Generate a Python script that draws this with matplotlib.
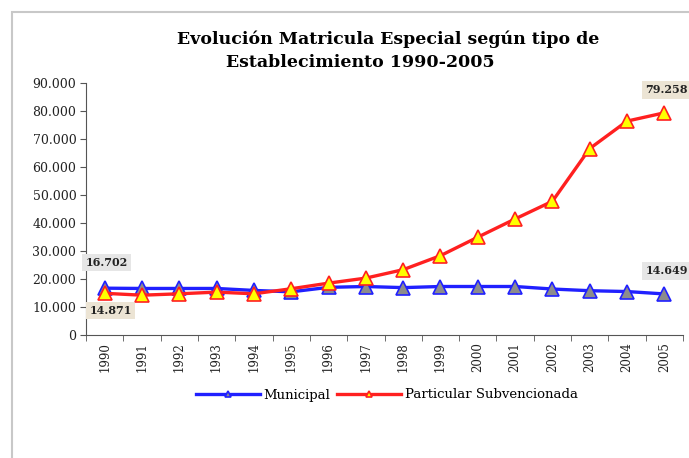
import matplotlib
matplotlib.use("Agg")
import matplotlib.pyplot as plt
from matplotlib.patches import Rectangle

# datos
anios = [str(a) for a in range(1990, 2006)]
municipal = [16702, 16600, 16600, 16600, 15900, 15400, 17000, 17300, 16900,
             17300, 17300, 17300, 16400, 15800, 15500, 14649]
particular = [14871, 14200, 14700, 15300, 14700, 16500, 18500, 20300, 23300,
              28300, 34900, 41400, 47700, 66500, 76300, 79258]
yticks = list(range(0, 90001, 10000))
ytick_labels = ["0"] + [f"{v // 1000}.000" for v in yticks[1:]]

plt.rcParams['font.family'] = ['DejaVu Serif']

fig = plt.figure(figsize=(6.89, 4.58), dpi=100)
ax = fig.add_axes([86 / 689, 1 - 335 / 458, (683 - 86) / 689, (335 - 82.7) / 458])

# marco gris del area del grafico
fig.patches.append(Rectangle((12 / 689, -0.05), 1.2, 1.05 - 12 / 458,
                             transform=fig.transFigure, fill=False,
                             edgecolor='#c8c8c8', lw=1.5))

x = list(range(len(anios)))
ax.plot(x, municipal, color='#2020ff', lw=2.4, marker='^', ms=10,
        mfc='#8c8c8c', mec='#2020ff', mew=1.2, label='Municipal', zorder=3)
ax.plot(x, particular, color='#ff2020', lw=2.4, marker='^', ms=10,
        mfc='#ffff00', mec='#ff2020', mew=1.2, label='Particular Subvencionada', zorder=4)

ax.set_xlim(-0.5, len(anios) - 0.5)
ax.set_ylim(0, 90000)
ax.set_yticks(yticks)
ax.set_yticklabels(ytick_labels, fontsize=9, color='#222222')
ax.set_xticks(x)
ax.set_xticklabels(anios, rotation=90, fontsize=8.5, color='#222222')
ax.set_xticks([i - 0.5 for i in range(len(anios) + 1)], minor=True)
ax.tick_params(axis='x', which='major', length=0, pad=5)
ax.tick_params(axis='x', which='minor', length=4, color='#555555')
ax.tick_params(axis='y', length=4, color='#555555', pad=3)
for s in ['top', 'right']:
    ax.spines[s].set_visible(False)
for s in ['left', 'bottom']:
    ax.spines[s].set_color('#555555')

# etiquetas de datos
lbl = dict(fontsize=8, fontweight='bold', color='#222222')
ax.annotate("16.702", (0, municipal[0]), xytext=(-14, 16), textcoords='offset points',
            bbox=dict(boxstyle='square,pad=0.3', fc='#e6e6e6', ec='none'), **lbl)
ax.annotate("14.871", (0, particular[0]), xytext=(-11, -15), textcoords='offset points',
            bbox=dict(boxstyle='square,pad=0.3', fc='#ece4d4', ec='none'), **lbl)
ax.annotate("79.258", (15, particular[-1]), xytext=(-13.5, 14), textcoords='offset points',
            bbox=dict(boxstyle='square,pad=0.3', fc='#ece4d4', ec='none'),
            annotation_clip=False, **lbl)
ax.annotate("14.649", (15, municipal[-1]), xytext=(-13.5, 14), textcoords='offset points',
            bbox=dict(boxstyle='square,pad=0.3', fc='#e6e6e6', ec='none'),
            annotation_clip=False, **lbl)

fig.text(388 / 689, 1 - 39 / 458, "Evolución Matricula Especial según tipo de",
         ha='center', va='center', fontsize=12.5, fontweight='bold')
fig.text(360 / 689, 1 - 63 / 458, "Establecimiento 1990-2005",
         ha='center', va='center', fontsize=12.5, fontweight='bold')

ax.legend(loc='center', bbox_to_anchor=(387 / 689, 1 - 395 / 458),
          bbox_transform=fig.transFigure, ncol=2, frameon=False, fontsize=9.5,
          handlelength=4.8, columnspacing=0.5, handletextpad=0.3, markerscale=0.5)

fig.savefig("out.png", dpi=100)
